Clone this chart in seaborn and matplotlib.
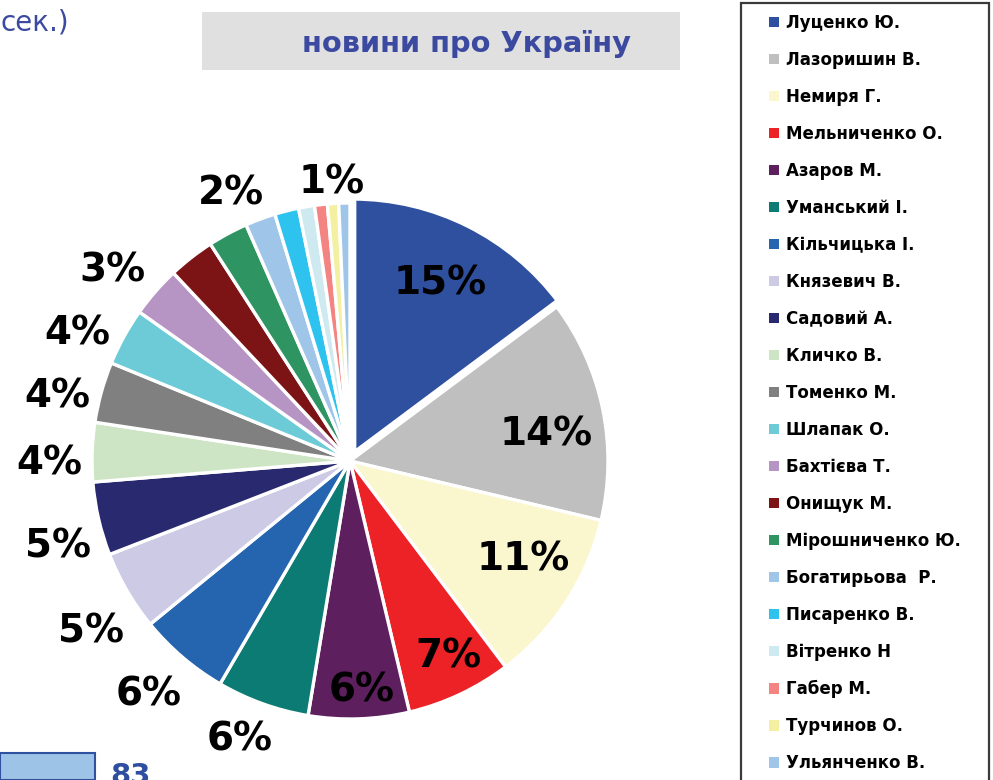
import matplotlib
matplotlib.use("Agg")
import numpy as np
import matplotlib.pyplot as plt
from matplotlib.patches import Rectangle, Patch
import seaborn as sns

# Share of airtime in "news about Ukraine" by speaker, percent
names = [
    "Луценко Ю.", "Лазоришин В.", "Немиря Г.", "Мельниченко О.", "Азаров М.",
    "Уманський І.", "Кільчицька І.", "Князевич В.", "Садовий А.", "Кличко В.",
    "Томенко М.", "Шлапак О.", "Бахтієва Т.", "Онищук М.", "Мірошниченко Ю.",
    "Богатирьова  Р.", "Писаренко В.", "Вітренко Н", "Габер М.", "Турчинов О.",
    "Ульянченко В.",
]
shares = [14.8, 13.9, 11.0, 6.6, 6.3, 5.8, 5.7, 5.0, 4.6, 3.7,
          3.8, 3.6, 3.2, 2.9, 2.5, 1.9, 1.5, 1.0, 0.8, 0.7, 0.7]
colors = [
    "#2f4f9f", "#bfbfbf", "#faf6cd", "#ec2227", "#5d1f5e",
    "#0c7b74", "#2564ae", "#cdcae6", "#29296f", "#cde5c5",
    "#808080", "#6ccbd7", "#b695c5", "#7c1416", "#2e9562",
    "#9fc5e8", "#2ec3ef", "#cfe9f1", "#f48481", "#f4f0a2",
    "#9fc5e8",
]
# speakers whose share is printed on the chart
labelled = [0, 1, 2, 3, 4, 5, 6, 7, 8, 9, 10, 11, 12, 15, 19]

sns.set_theme(style="white")
plt.rcParams["font.family"] = ["DejaVu Sans"]

fig = plt.figure(figsize=(9.93, 7.80), dpi=100)
W, H = 993, 780
cx, cy, R = 350, 461, 258
ax = fig.add_axes([(cx - R) / W, (H - cy - R) / H, 2 * R / W, 2 * R / H])

explode = [0.025] + [0.0] * (len(shares) - 1)
wedges, _ = ax.pie(
    shares, colors=colors, startangle=90, counterclock=False,
    explode=explode, radius=1.0,
    wedgeprops=dict(edgecolor="white", linewidth=2.4),
)
wedges[0].set_linewidth(5)
ax.set_xlim(-1, 1)
ax.set_ylim(-1, 1)
ax.set_aspect("equal")
ax.axis("off")

# label placement: distance from the wedge centre and a small angular nudge
label_pos = {0: (0.755, 0), 1: (0.768, -3.3), 2: (0.767, 4), 3: (0.842, 1.6),
             4: (0.881, 1), 5: (1.155, -1.9), 6: (1.19, -0.5),
             7: (1.197, 2.8), 8: (1.178, 3), 9: (1.167, 2), 10: (1.165, 2.6),
             11: (1.169, 3.3), 12: (1.185, 2), 15: (1.144, 3.5),
             19: (1.088, 0)}
for i in labelled:
    w = wedges[i]
    r, nudge = label_pos[i]
    mid = np.deg2rad((w.theta1 + w.theta2) / 2 + nudge)
    x0, y0 = w.center
    ax.text(x0 + r * np.cos(mid), y0 + r * np.sin(mid) - 0.008,
            f"{round(shares[i])}%",
            ha="center", va="center", fontsize=28, fontweight="bold",
            color="black", clip_on=False)

# title panel
fig.patches.append(Rectangle((202 / W, 1 - 70 / H), 478 / W, 58 / H,
                             transform=fig.transFigure, facecolor="#e0e0e0",
                             edgecolor="none", zorder=0))
fig.text(467 / W, 1 - 44 / H, "новини про Україну", ha="center", va="center",
         fontsize=20.8, fontweight="bold", color="#3b4aa0")

# tail of the neighbouring heading
fig.text(69 / W, 1 - 30 / H, "сек.)", ha="right", va="baseline",
         fontsize=20, color="#3b4aa0")

# edge of the neighbouring bar chart
fig.patches.append(Rectangle((0, 0), 95 / W, 27 / H, transform=fig.transFigure,
                             facecolor="#9dc3e6", edgecolor="#2f52a0",
                             linewidth=1.5, zorder=1))
fig.text(110 / W, 1 - 762 / H, "83", ha="left", va="top", fontsize=21,
         fontweight="bold", color="#2e4ea0")

# legend box
fig.patches.append(Rectangle((741 / W, -0.05), 248 / W, 1.05 - 3 / H,
                             transform=fig.transFigure, facecolor="white",
                             edgecolor="#3a3a3a", linewidth=1.6, zorder=1))
handles = [Patch(facecolor=c, edgecolor="none") for c in colors]
leg = fig.legend(handles, names, loc="upper left",
                 bbox_to_anchor=(769 / W, 1 - 14 / H),
                 frameon=False, borderpad=0, borderaxespad=0,
                 handlelength=0.6, handleheight=0.6, handletextpad=0.42,
                 labelspacing=1.14,
                 prop=dict(size=12, weight="bold"))
leg.set_zorder(2)
for t in leg.get_texts():
    t.set_color("black")

fig.savefig("out.png", dpi=100)
